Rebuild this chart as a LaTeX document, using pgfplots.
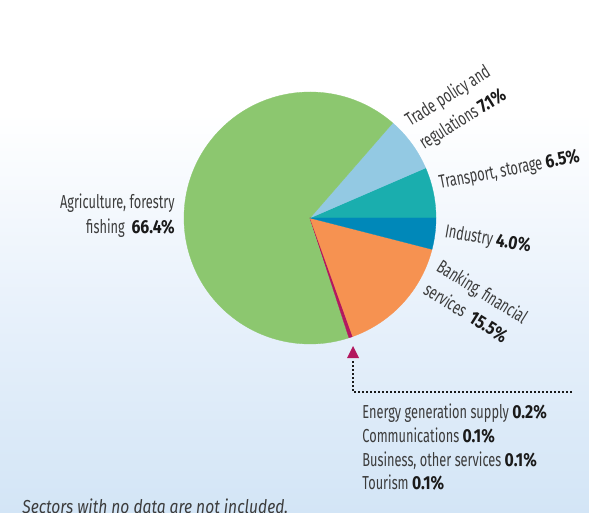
\documentclass[border=0pt]{standalone}
\usepackage{pgfplots}
\pgfplotsset{compat=1.18}
\usepackage{fontspec}
\setmainfont{Fira Sans}[FakeStretch=0.68, BoldFeatures={FakeStretch=0.84}, ItalicFeatures={FakeStretch=0.83}]
\definecolor{cAgri}{HTML}{8CC76F}
\definecolor{cTrade}{HTML}{93C9E3}
\definecolor{cTrans}{HTML}{1AAEAE}
\definecolor{cInd}{HTML}{0088B9}
\definecolor{cBank}{HTML}{F69251}
\definecolor{cMag}{HTML}{B3175E}
\definecolor{labgray}{HTML}{3C3C3C}
\definecolor{numblack}{HTML}{1A1A1A}
\definecolor{bgblue}{RGB}{211,229,246}
\definecolor{bgmid}{RGB}{232,241,251}
\pgfdeclareverticalshading{bgshade}{100bp}{color(0bp)=(bgblue); color(25bp)=(bgblue); color(45bp)=(bgmid); color(64bp)=(white); color(100bp)=(white)}
\tikzset{lbl/.style={text=labgray, inner sep=0pt, font=\fontsize{9.4}{11}\selectfont}}
\newcommand{\num}[1]{\textcolor{numblack}{\bfseries #1}}
\begin{document}
\begin{tikzpicture}
\useasboundingbox (0,0) rectangle (294.5pt,256.5pt);
\shade[shading=bgshade] (0,0) rectangle (294.5pt,256.5pt);
\begin{axis}[
  at={(0,256.5pt)}, anchor=north west,
  width=294.5pt, height=256.5pt, scale only axis,
  xmin=0, xmax=589, ymin=0, ymax=513, y dir=reverse,
  hide axis, clip=false]
\pgfplotsextra{%
  \gdef\cum{0}%
  \foreach \v/\col in {6.5/cTrans, 7.1/cTrade, 66.4/cAgri, 0.2/cMag, 0.1/cMag, 0.1/cMag, 0.1/cMag, 15.5/cBank, 4.0/cInd}{%
    \pgfmathsetmacro\s{\cum*3.6}%
    \pgfmathsetmacro\e{(\cum+\v)*3.6}%
    \fill[\col, draw=\col, line width=0.15pt, line join=round] (axis cs:310,218) -- ++(\s:63pt) arc[start angle=\s, end angle=\e, radius=63pt] -- cycle;
    \pgfmathsetmacro\n{\cum+\v}\global\let\cum\n
  }%
}
% pointer for the small sectors
\fill[cMag] (axis cs:353,346) -- (axis cs:347,358) -- (axis cs:359,358) -- cycle;
\draw[numblack, line width=0.9pt, dash pattern=on 0.9pt off 1.1pt] (axis cs:353,361) -- (axis cs:353,392) -- (axis cs:572,392);
% labels
\node[lbl, anchor=base east] at (axis cs:175,209) {Agriculture, forestry};
\node[lbl, anchor=base east] at (axis cs:175,234) {fishing\ \ \num{66.4\%}};
\node[lbl, anchor=base west, rotate=32] at (axis cs:410,127) {Trade policy and};
\node[lbl, anchor=base west, rotate=32] at (axis cs:424,150) {regulations \num{7.1\%}};
\node[lbl, anchor=base west, rotate=11] at (axis cs:440,189) {Transport, storage \num{6.5\%}};
\node[lbl, anchor=base west, rotate=-10] at (axis cs:444,237) {Industry \num{4.0\%}};
\node[lbl, anchor=base west, rotate=-32] at (axis cs:435,270) {Banking, financial};
\node[lbl, anchor=base west, rotate=-32] at (axis cs:422,293) {services\ \ \num{15.5\%}};
\node[lbl, anchor=base west] at (axis cs:362,418) {Energy generation supply \num{0.2\%}};
\node[lbl, anchor=base west] at (axis cs:362,442) {Communications \num{0.1\%}};
\node[lbl, anchor=base west] at (axis cs:362,466) {Business, other services \num{0.1\%}};
\node[lbl, anchor=base west] at (axis cs:362,489) {Tourism \num{0.1\%}};
\node[lbl, anchor=base west, font=\fontsize{9.4}{11}\selectfont\itshape] at (axis cs:22,513) {Sectors with no data are not included.};
\end{axis}
\end{tikzpicture}
\end{document}
